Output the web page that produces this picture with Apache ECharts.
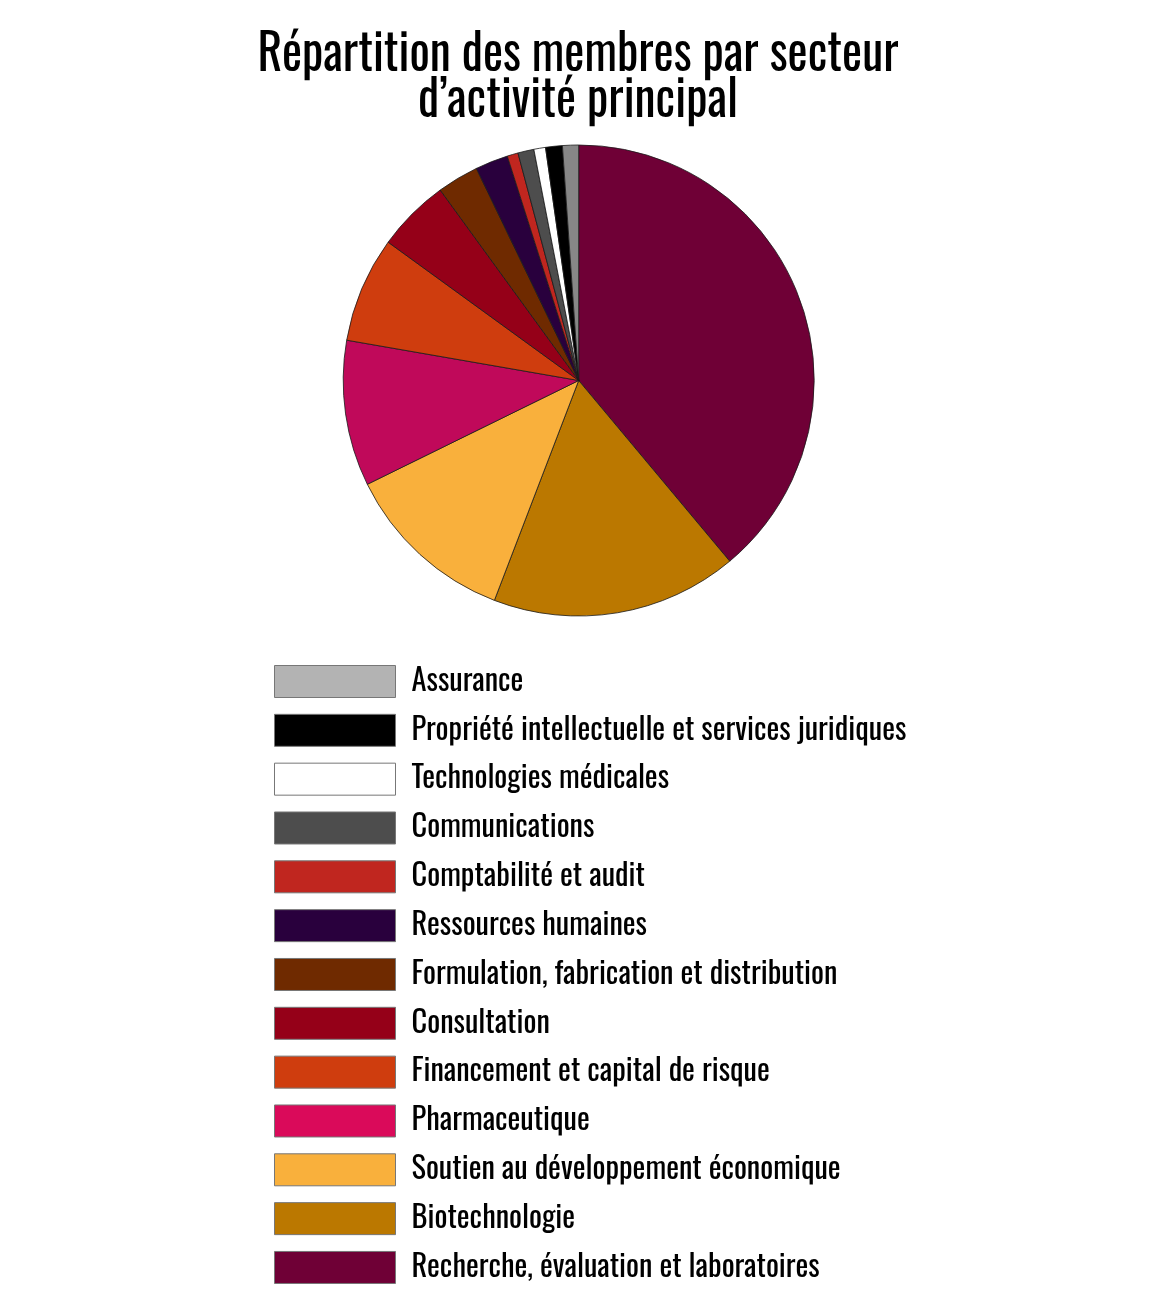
<!DOCTYPE html>
<html>
<head>
<meta charset="utf-8">
<script src="https://cdn.jsdelivr.net/npm/echarts@6/dist/echarts.min.js"></script>
<style>
html,body{margin:0;padding:0;background:#ffffff;}
#chart{width:1165px;height:1291px;}
</style>
</head>
<body>
<div id="chart"></div>
<script>
// ---- data ----
const categories = [
  'Recherche, évaluation et laboratoires',
  'Biotechnologie',
  'Soutien au développement économique',
  'Pharmaceutique',
  'Financement et capital de risque',
  'Consultation',
  'Formulation, fabrication et distribution',
  'Ressources humaines',
  'Comptabilité et audit',
  'Communications',
  'Technologies médicales',
  'Propriété intellectuelle et services juridiques',
  'Assurance'
];
const shares = [38.9, 16.9, 11.9, 10.0, 7.25, 5.0, 2.85, 2.25, 0.75, 1.1, 0.8, 1.15, 1.1];
const sliceColors = ['#6f0036','#bb7800','#f9b03c','#c0095a','#cf3d0e','#950018','#6f2a00','#29003d','#c0261f','#4d4d4d','#ffffff','#000000','#878787'];
const legendColors = ['#6f0036','#bb7800','#f9b03c','#da0a5a','#cf3d0e','#950018','#6f2a00','#29003d','#c0261f','#4d4d4d','#ffffff','#000000','#b3b3b3'];
const titleLines = ['Répartition des membres par secteur', 'd\u2019activité principal'];

// ---- layout helpers ----
const FONT = "'Oswald','Liberation Sans Narrow','Liberation Sans',sans-serif";
const mctx = document.createElement('canvas').getContext('2d');
function textWidth(t, size) { mctx.font = size + 'px ' + FONT; return mctx.measureText(t).width; }

const titleSize = 51.5;
const titleScale = 641 / textWidth(titleLines[0], titleSize);
const longest = categories.reduce((a, b) => textWidth(a, 100) > textWidth(b, 100) ? a : b);
const legendSize = Math.min(34, 100 * 495 / textWidth(longest, 100));

const legendOrder = categories.map((_, i) => i).reverse();

const chart = echarts.init(document.getElementById('chart'), null, {renderer: 'canvas'});
chart.setOption({
  animation: false,
  backgroundColor: '#ffffff',
  graphic: titleLines.map((line, k) => ({
    type: 'text',
    x: 578,
    y: 55.7 + k * 46,
    scaleX: titleScale,
    silent: true,
    style: {
      text: line,
      fontSize: titleSize,
      fontFamily: FONT,
      fill: '#000000',
      align: 'center',
      verticalAlign: 'middle'
    }
  })),
  legend: {
    orient: 'vertical',
    left: 274,
    top: 665,
    height: 626,
    padding: 0,
    icon: 'rect',
    itemWidth: 121,
    itemHeight: 32,
    itemGap: 15.83,
    selectedMode: false,
    data: legendOrder.map(i => ({
      name: categories[i],
      itemStyle: {color: legendColors[i], borderColor: '#777777', borderWidth: 1}
    })),
    textStyle: {
      fontFamily: FONT,
      fontSize: legendSize,
      color: '#000000',
      lineHeight: 30,
      padding: [0, 0, 0, 11]
    }
  },
  series: [{
    type: 'pie',
    center: [578.7, 380.5],
    radius: 235.5,
    startAngle: 90,
    clockwise: true,
    silent: true,
    minAngle: 0,
    label: {show: false},
    labelLine: {show: false},
    emphasis: {disabled: true},
    itemStyle: {borderColor: '#1a1a1a', borderWidth: 0.8},
    data: categories.map((n, i) => ({name: n, value: shares[i], itemStyle: {color: sliceColors[i]}}))
  }]
});
</script>
</body>
</html>
